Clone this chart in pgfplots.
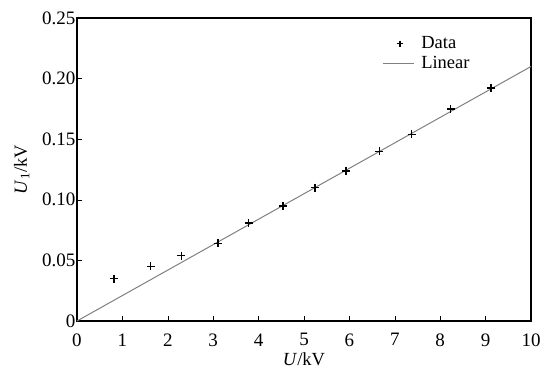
\documentclass[border=0pt]{standalone}
\usepackage{pgfplots}
\pgfplotsset{compat=1.18}
\usetikzlibrary{calc}
\usepackage{fontspec}
\setmainfont{Liberation Serif}
\pgfplotsset{
  datalegend/.style={legend image code/.code={\draw[##1, mark size=3pt] plot coordinates {(17pt,0pt)};}},
  linelegend/.style={legend image code/.code={\draw[##1] (0pt,0pt) -- (31pt,0pt);}},
}
\begin{document}
\begin{tikzpicture}
\begin{axis}[
  name=ax,
  scale only axis,
  width=454pt, height=303pt,
  xmin=0, xmax=10, ymin=0, ymax=0.25,
  xtick={0,1,...,10},
  ytick={0,0.05,0.10,0.15,0.20,0.25},
  yticklabels={0,0.05,0.10,0.15,0.20,0.25},
  /pgf/number format/assume math mode=true,
  tick align=inside,
  xtick pos=bottom, ytick pos=left,
  major tick length=5pt,
  tick style={black, line width=0.6pt},
  axis line style={line width=1.4pt},
  ticklabel style={font=\fontsize{19}{22}\selectfont},
  yticklabel style={xshift=2pt},
  xticklabel style={yshift=-9pt},
  xlabel={\textit{U}/kV},
  ylabel={\textit{U}\textsubscript{1}/kV},
  label style={font=\fontsize{18.5}{22}\selectfont},
  xlabel style={yshift=-2pt, inner sep=1pt},
  ylabel style={yshift=6pt},
  legend style={draw=none, fill=none, at={(0.672,0.945)}, anchor=north west,
    font=\fontsize{18.5}{20}\selectfont, row sep=2pt, inner sep=0pt,
    /tikz/every odd column/.style={column sep=5pt}},
  legend cell align=left,
]
\addplot[only marks, mark=+, mark size=4pt, line width=1.6pt, black, datalegend]
  coordinates {
  (0.82,0.035) (1.62,0.045) (2.30,0.054) (3.10,0.064) (3.78,0.081)
  (4.54,0.095) (5.24,0.110) (5.93,0.124) (6.66,0.140) (7.37,0.154)
  (8.23,0.175) (9.12,0.192)
  };
\addlegendentry{Data}
\addplot[gray, line width=1pt, linelegend]
  coordinates {(0,0) (10,0.21)};
\addlegendentry{Linear}
\end{axis}
\pgfresetboundingbox
\path[use as bounding box] ($(ax.south west)+(-77pt,-51pt)$) rectangle ($(ax.north east)+(12pt,18pt)$);
\end{tikzpicture}
\end{document}
